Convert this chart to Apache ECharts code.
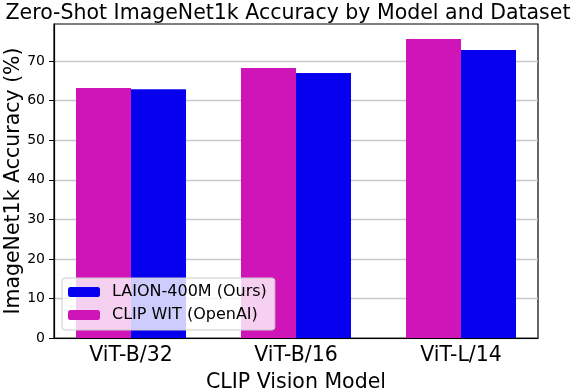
<!DOCTYPE html>
<html>
<head>
<meta charset="utf-8">
<script src="https://cdn.jsdelivr.net/npm/echarts@6/dist/echarts.min.js"></script>
<style>
  html, body { margin: 0; padding: 0; background: #fff; }
  #chart { width: 576px; height: 392px; }
</style>
</head>
<body>
<div id="chart"></div>
<script>
const models = ["ViT-B/32", "ViT-B/16", "ViT-L/14"];
const clipWit = [63.2, 68.3, 75.6];
const laion = [62.9, 67.0, 72.8];
const yTicks = [0, 10, 20, 30, 40, 50, 60, 70];

const font = "DejaVu Sans";
const yMax = 79.4;

// grid 0 = the black frame + y axis, grid 1 = slightly wider band area for the bars
const options = {
  animation: false,
  title: {
    text: "Zero-Shot ImageNet1k Accuracy by Model and Dataset",
    left: "center",
    top: -2,
    textStyle: { fontFamily: font, fontSize: 20.5, fontWeight: "normal", color: "#000" },
  },
  grid: [
    { left: 54, right: 38, top: 24, bottom: 54, outerBoundsMode: "none", show: true, borderColor: "#000", borderWidth: 1.2 },
    { left: 48.5, right: 32.5, top: 24, bottom: 54, outerBoundsMode: "none" },
  ],
  legend: {
    orient: "vertical",
    left: 62,
    top: 278,
    data: ["LAION-400M (Ours)", "CLIP WIT (OpenAI)"],
    itemWidth: 32,
    itemHeight: 10,
    itemGap: 7,
    padding: [6, 8, 7, 6],
    backgroundColor: "rgba(255,255,255,0.8)",
    borderColor: "#cccccc",
    borderWidth: 1,
    borderRadius: 3,
    textStyle: { fontFamily: font, fontSize: 16, color: "#000", padding: [0, 0, 0, 7] },
  },
  xAxis: [
    {
      type: "category",
      gridIndex: 0,
      data: models,
      name: "CLIP Vision Model",
      nameLocation: "middle",
      nameGap: 34,
      nameTextStyle: { fontFamily: font, fontSize: 20.5, color: "#000" },
      axisLine: { lineStyle: { color: "#000", width: 1.2 } },
      axisTick: { show: false },
      axisLabel: { show: false },
      splitLine: { show: false },
    },
    {
      type: "category",
      gridIndex: 1,
      data: models,
      axisLine: { show: false },
      axisTick: { alignWithLabel: true, length: 5, lineStyle: { color: "#000" } },
      axisLabel: { fontFamily: font, fontSize: 20.5, color: "#000", margin: 7 },
      splitLine: { show: false },
    },
  ],
  yAxis: [
    {
      type: "value",
      gridIndex: 0,
      min: 0,
      max: yMax,
      interval: 10,
      name: "ImageNet1k Accuracy (%)",
      nameLocation: "middle",
      nameGap: 30,
      nameMoveOverlap: false,
      nameTextStyle: { fontFamily: font, fontSize: 20.5, color: "#000" },
      axisLine: { show: true, lineStyle: { color: "#000", width: 1.2 } },
      axisTick: { show: true, length: 5, lineStyle: { color: "#000" }, customValues: yTicks },
      axisLabel: { fontFamily: font, fontSize: 14, color: "#000", margin: 9, customValues: yTicks },
      splitLine: { lineStyle: { color: "#c8c8c8", width: 1.3 } },
    },
    {
      type: "value",
      gridIndex: 1,
      min: 0,
      max: yMax,
      show: false,
      splitLine: { show: false },
    },
  ],
  series: [
    {
      name: "CLIP WIT (OpenAI)",
      type: "bar",
      xAxisIndex: 1,
      yAxisIndex: 1,
      data: clipWit,
      barWidth: 55,
      barGap: "0%",
      itemStyle: { color: "#cf15b8" },
    },
    {
      name: "LAION-400M (Ours)",
      type: "bar",
      xAxisIndex: 1,
      yAxisIndex: 1,
      data: laion,
      barWidth: 55,
      barGap: "0%",
      itemStyle: { color: "#0600ee" },
    },
  ],
};

const chart = echarts.init(document.getElementById("chart"));
chart.setOption(options);
</script>
</body>
</html>
